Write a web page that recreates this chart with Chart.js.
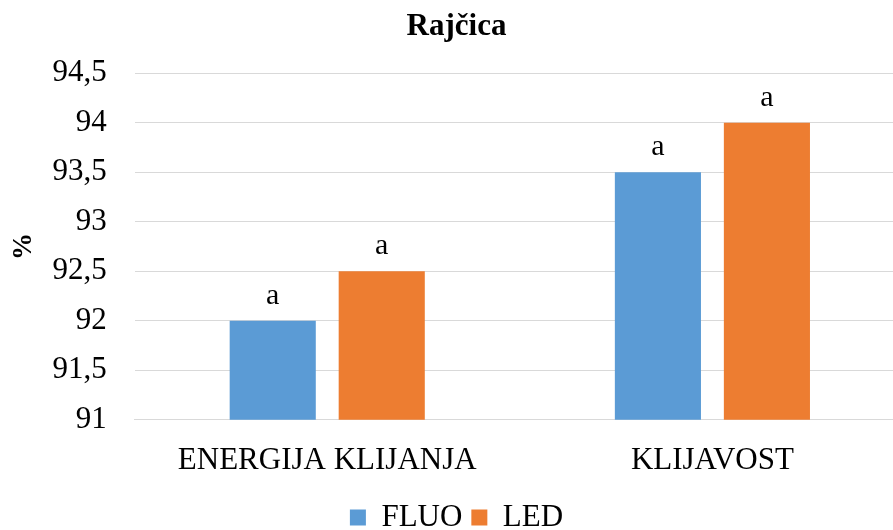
<!DOCTYPE html>
<html>
<head>
<meta charset="utf-8">
<script src="https://cdn.jsdelivr.net/npm/chart.js@4"></script>
<style>
  html, body { margin: 0; padding: 0; background: #fff; overflow: hidden; }
  #wrap { width: 905px; height: 530px; }
</style>
</head>
<body>
<div id="wrap"><canvas id="chart"></canvas></div>
<script>
// podaci
const categories = ["ENERGIJA KLIJANJA", "KLIJAVOST"];
const fluoValues = [92, 93.5];
const ledValues = [92.5, 94];
const fluoLetters = ["a", "a"];
const ledLetters = ["a", "a"];
const yMin = 91, yMax = 94.5, yStep = 0.5;

const serif = "'Liberation Serif', 'Times New Roman', serif";
Chart.defaults.font.family = serif;
Chart.defaults.color = "#000";

// slova iznad stupaca
const letterPlugin = {
  id: "letters",
  afterDatasetsDraw(chart) {
    const ctx = chart.ctx;
    ctx.save();
    ctx.font = "30px " + serif;
    ctx.fillStyle = "#000";
    ctx.textAlign = "center";
    ctx.textBaseline = "bottom";
    chart.data.datasets.forEach((ds, i) => {
      const meta = chart.getDatasetMeta(i);
      meta.data.forEach((bar, j) => {
        ctx.fillText(ds.letters[j], bar.x, bar.y - 10);
      });
    });
    ctx.restore();
  }
};

new Chart(document.getElementById("chart"), {
  type: "bar",
  data: {
    labels: categories,
    datasets: [
      { label: "FLUO", data: fluoValues, letters: fluoLetters, backgroundColor: "#5B9BD5" },
      { label: "LED", data: ledValues, letters: ledLetters, backgroundColor: "#ED7D31" }
    ]
  },
  options: {
    responsive: true,
    maintainAspectRatio: false,
    animation: false,
    layout: { padding: { left: 8, right: 0, top: 0, bottom: -13 } },
    datasets: { bar: { categoryPercentage: 0.566, barPercentage: 0.79 } },
    plugins: {
      title: {
        display: true,
        text: "Rajčica",
        font: { size: 31, weight: "bold" },
        padding: { top: 8, bottom: 28 }
      },
      legend: {
        position: "bottom",
        labels: { boxWidth: 16, boxHeight: 16, font: { size: 31 }, padding: 9 }
      },
      tooltip: { enabled: false }
    },
    scales: {
      x: {
        grid: { display: false },
        border: { color: "#d9d9d9" },
        ticks: { font: { size: 31 }, padding: 14 }
      },
      y: {
        min: yMin,
        max: yMax,
        border: { display: false },
        grid: { color: "#d9d9d9", drawTicks: false },
        ticks: {
          stepSize: yStep,
          font: { size: 31 },
          padding: 28,
          callback: v => String(v).replace(".", ",")
        },
        title: { display: true, text: "%", font: { size: 27, weight: "bold" }, padding: { top: 0, bottom: -16 } }
      }
    }
  },
  plugins: [letterPlugin]
});
</script>
</body>
</html>
